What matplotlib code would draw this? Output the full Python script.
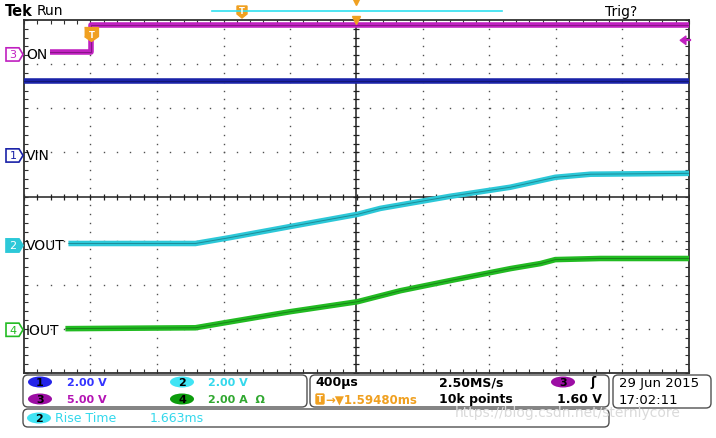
import numpy as np
import matplotlib.pyplot as plt
from matplotlib.patches import FancyBboxPatch, Polygon, Ellipse
from matplotlib.transforms import blended_transform_factory, offset_copy

W, H = 716, 439

# scope settings
time_div = 0.4          # ms/div (400us)
trig_delay = 1.5948     # ms, screen centre after trigger
volts_div = {1: 2.0, 2: 2.0, 3: 5.0, 4: 2.0}
ch_pos = {1: 0.93, 2: -1.11, 3: 3.22, 4: -3.02}   # ground markers in div
trig_level = 1.60       # V on ch3

# traces (time in ms from trigger, values in channel units)
on_t = [-0.247, 0.0, 0.0, 3.6]
on_v = [0.28, 0.28, 3.33, 3.33]
vin_t = [-0.41, 3.6]
vin_v = [3.36, 3.36]
vout_t = [-0.138, 0.626, 0.836, 1.197, 1.600, 1.738, 2.159, 2.520, 2.791, 3.002, 3.597]
vout_v = [0.09, 0.09, 0.36, 0.86, 1.41, 1.68, 2.23, 2.64, 3.09, 3.23, 3.27]
iout_t = [-0.156, 0.626, 0.836, 1.197, 1.600, 1.859, 2.159, 2.520, 2.701, 2.791, 3.062, 3.597]
iout_a = [0.05, 0.09, 0.36, 0.82, 1.27, 1.77, 2.23, 2.77, 3.00, 3.18, 3.23, 3.23]

col = {1: '#1a22a8', 2: '#2cc8d8', 3: '#c020c0', 4: '#22bb22'}
orange = '#f0a020'


def to_div(ch, vals):
    return ch_pos[ch] + np.array(vals) / volts_div[ch]


fig = plt.figure(figsize=(W / 100, H / 100), dpi=100)
fig.patch.set_facecolor('white')

ax = fig.add_axes([24 / W, (H - 374) / H, 665 / W, 353 / H])
x0 = trig_delay - 5 * time_div
x1 = trig_delay + 5 * time_div
ax.set_xlim(x0, x1)
ax.set_ylim(-4, 4)

# graticule
div_x = x0 + time_div * np.arange(11)
div_y = np.arange(-4, 5)
minor_x = x0 + time_div * 0.2 * np.arange(51)
minor_y = np.arange(-4, 4.01, 0.2)
for k in range(1, 10):
    if k == 5:
        continue
    ax.plot(np.full(minor_y.size, div_x[k]), minor_y, ls='none', marker='s',
            ms=1.0, mew=0, color='#505050', zorder=1)
for k in range(1, 8):
    if k == 4:
        continue
    ax.plot(minor_x, np.full(minor_x.size, div_y[k]), ls='none', marker='s',
            ms=1.0, mew=0, color='#505050', zorder=1)
ax.axhline(0, color='#202020', lw=1.1, zorder=1)
ax.axvline(trig_delay, color='#202020', lw=1.1, zorder=1)
ax.plot(minor_x, np.zeros(minor_x.size), ls='none', marker='|', ms=5,
        mew=0.9, color='#202020', zorder=1)
ax.plot(np.full(minor_y.size, trig_delay), minor_y, ls='none', marker='_',
        ms=5, mew=0.9, color='#202020', zorder=1)

ax.set_xticks(div_x)
ax.set_xticks(minor_x, minor=True)
ax.set_yticks(div_y)
ax.set_yticks(minor_y, minor=True)
ax.tick_params(which='both', direction='in', length=3, width=0.8,
               top=True, right=True, labelbottom=False, labelleft=False,
               color='#303030')
for s in ax.spines.values():
    s.set_color('#303030')
    s.set_linewidth(1.3)


def trace(t, y, c):
    ax.plot(t, y, color=c, lw=4.0, solid_capstyle='butt', zorder=3)
    ax.plot(t, y, color='black', lw=0.7, alpha=0.3, zorder=4)


trace(on_t, to_div(3, on_v), col[3])
trace(vin_t, to_div(1, vin_v), col[1])
trace(vout_t, to_div(2, vout_v), col[2])
trace(iout_t, to_div(4, iout_a), col[4])

# overlay for everything outside the graticule
deco = fig.add_axes([0, 0, 1, 1], zorder=5)
deco.set_xlim(0, W)
deco.set_ylim(H, 0)
deco.axis('off')
deco.patch.set_visible(False)

side = blended_transform_factory(deco.transData, ax.transData)

# channel ground markers and labels
names = {3: 'ON', 1: 'VIN', 2: 'VOUT', 4: 'IOUT'}
for ch in [3, 1, 2, 4]:
    y0 = ch_pos[ch]
    h = 0.15
    filled = ch == 2
    deco.add_patch(Polygon([(6, y0 + h), (19, y0 + h), (23, y0), (19, y0 - h), (6, y0 - h)],
                           closed=True, transform=side, clip_on=False,
                           fc=col[ch] if filled else 'white', ec=col[ch], lw=1.2, zorder=6))
    deco.text(13, y0, str(ch), transform=side, ha='center', va='center',
              fontsize=8, color='white' if filled else col[ch], zorder=7)
    deco.text(26, y0, names[ch], transform=side, ha='left', va='center',
              fontsize=10, color='black', zorder=7)

# trigger level arrow on the right, trigger point marker
lvl = ch_pos[3] + trig_level / volts_div[3]
deco.add_patch(Polygon([(680, lvl), (686, lvl + 0.1), (686, lvl - 0.1)], closed=True,
                       transform=side, fc=col[3], ec=col[3], lw=0.8, zorder=6))
deco.plot([685, 690], [lvl, lvl], transform=side, color=col[3], lw=1.6, zorder=6)
tmark = [(-1, 1), (1, 1), (1, -0.3), (0, -1), (-1, -0.3)]
tr = offset_copy(ax.transData, fig=fig, x=0, y=6, units='dots')
ax.plot([0], [lvl], transform=tr, marker=tmark, ms=10, color=orange,
        mec=orange, clip_on=False, zorder=6)
ax.text(0, lvl, 'T', transform=tr, ha='center', va='center', fontsize=6,
        fontweight='bold', color='white', zorder=7)
ax.plot([trig_delay], [4], marker='v', ms=6, color=orange, clip_on=False, zorder=6)

# header
deco.text(5, 11, 'Tek', fontsize=10.5, fontweight='bold', va='center')
deco.text(37, 11, 'Run', fontsize=10, va='center')
deco.text(605, 12, 'Trig?', fontsize=10, va='center')
deco.plot([212, 502], [12, 12], color='#30e0f0', lw=1.2)
deco.add_patch(Polygon([(237, 7), (247, 7), (247, 15), (242, 19), (237, 15)],
                       closed=True, fc=orange, ec=orange))
deco.text(242, 12, 'T', fontsize=6, fontweight='bold', color='white',
          ha='center', va='center')
deco.plot([356], [3], marker='v', ms=4, color=orange)


def box(x, y, w, h):
    deco.add_patch(FancyBboxPatch((x, y), w, h, boxstyle='round,pad=0,rounding_size=5',
                                  fc='white', ec='#505050', lw=1.0))


def chip(cx, cy, c, label, tc='black'):
    deco.add_patch(Ellipse((cx, cy), 24, 11, fc=c, ec='none'))
    deco.text(cx, cy + 0.5, label, fontsize=8, fontweight='bold', color=tc,
              ha='center', va='center')


box(23, 376, 284, 32)
box(310, 376, 299, 32)
box(613, 376, 98, 33)
box(23, 410, 586, 18)

chip(40, 383, '#2424e8', '1')
deco.text(67, 383, '2.00 V', fontsize=8, fontweight='bold', color='#3434ff', va='center')
chip(40, 400, '#9c0ea4', '3')
deco.text(67, 400, '5.00 V', fontsize=8, fontweight='bold', color='#b414b4', va='center')
chip(182, 383, '#40e4f4', '2')
deco.text(208, 383, '2.00 V', fontsize=8, fontweight='bold', color='#34d8ec', va='center')
chip(182, 400, '#0c9c0c', '4')
deco.text(208, 400, '2.00 A  \u03a9', fontsize=8, fontweight='bold', color='#30a830', va='center')

deco.text(315, 383, '400\u00b5s', fontsize=9, fontweight='bold', va='center')
deco.text(439, 383, '2.50MS/s', fontsize=9, fontweight='bold', va='center')
chip(563, 383, '#9c0ea4', '3')
deco.text(590, 383, '\u0283', fontsize=9, fontweight='bold', va='center')
deco.add_patch(FancyBboxPatch((316, 395), 8, 10, boxstyle='round,pad=0,rounding_size=1',
                              fc=orange, ec=orange))
deco.text(320, 400, 'T', fontsize=6, fontweight='bold', color='white', ha='center', va='center')
deco.text(325, 400, '\u2192\u25bc1.59480ms', fontsize=8.5, fontweight='bold',
          color=orange, va='center')
deco.text(439, 400, '10k points', fontsize=9, fontweight='bold', va='center')
deco.text(602, 400, '1.60 V', fontsize=9, fontweight='bold', va='center', ha='right')

deco.text(619, 384, '29 Jun 2015', fontsize=9.5, va='center')
deco.text(619, 401, '17:02:11', fontsize=9.5, va='center')

chip(39, 419, '#40e4f4', '2')
deco.text(55, 419, 'Rise Time', fontsize=9, color='#34d8ec', va='center')
deco.text(150, 419, '1.663ms', fontsize=9, color='#34d8ec', va='center')
deco.text(455, 413, 'https://blog.csdn.net/sternlycore', fontsize=10,
          color='#dadada', va='center', zorder=8)

fig.savefig('out.png', dpi=100)
